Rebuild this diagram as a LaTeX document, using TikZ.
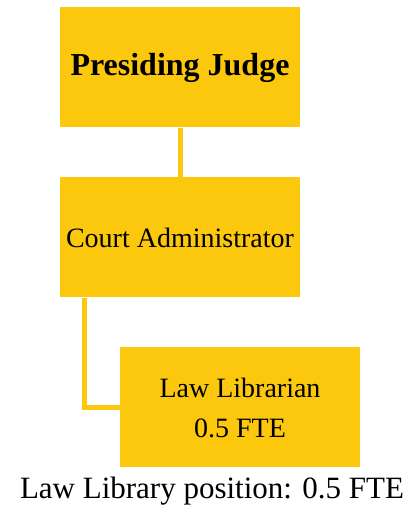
\documentclass[tikz,border=0pt]{standalone}
\usepackage{fontspec}
\setmainfont{Liberation Serif}
\usetikzlibrary{positioning}

\definecolor{gold}{RGB}{252,200,13}

\begin{document}
\begin{tikzpicture}[x=1pt, y=1pt, node distance=170pt, on grid,
    box/.style={fill=gold, minimum width=240pt, minimum height=120pt, inner sep=0pt, align=center, font=\fontsize{28}{40}\selectfont},
    link/.style={draw=gold, line width=5pt}]
  \useasboundingbox (0,0) rectangle (407,506);
  \node[box, font=\bfseries\fontsize{32}{38}\selectfont] (judge) at (180,438.5) {Presiding Judge};
  \node[box] (admin) [below=of judge] {Court Administrator};
  \node[box] (librarian) [below right=170pt and 60pt of admin] {Law Librarian\\0.5 FTE};
  \node[anchor=base, inner sep=0pt, font=\fontsize{31}{36}\selectfont] (note) at (212,8) {Law Library position: 0.5 FTE};

  \path[link] (judge) -- (admin);
  \path[link] ([xshift=-95.5pt]admin.south) |- (librarian.west);
\end{tikzpicture}
\end{document}
